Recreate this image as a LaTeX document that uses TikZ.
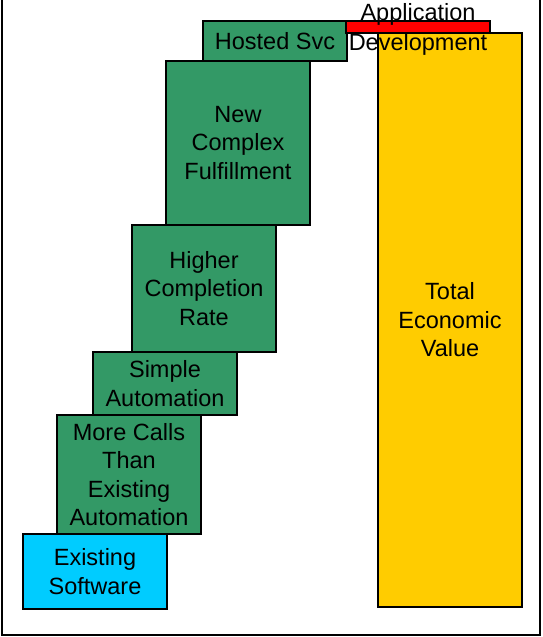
\documentclass[tikz,border=0pt]{standalone}
\usepackage{fontspec}
\setmainfont{Liberation Sans}
\usetikzlibrary{positioning}

\definecolor{stepgreen}{RGB}{51,153,102}
\definecolor{swcyan}{RGB}{0,204,255}
\definecolor{valueyellow}{RGB}{255,204,0}

\tikzset{
	bar/.style={draw=black, line width=1.5pt, rectangle, inner sep=0pt,
		minimum width=144pt, align=center,
		font=\fontsize{23.5}{28.5}\selectfont},
	stepbar/.style={bar, fill=stepgreen}
}

\begin{document}
\begin{tikzpicture}[x=1pt,y=-1pt]
			\useasboundingbox (0,0) rectangle (542,637);
			\draw[line width=1.5pt](2,0) -- (2,635) -- (540,635) -- (540,0);
			% staircase of benefits
			\node[bar, fill=swcyan, minimum height=75pt] (existing) at (95,571.5) {Existing\\Software};
			\node[stepbar, minimum height=119pt] (morecalls) at (129,474.5) {More Calls\\Than\\Existing\\Automation};
			\node[stepbar, minimum height=63pt] (simple) at (165,383.5) {Simple\\Automation};
			\node[stepbar, minimum height=127pt] (higher) at (204,288.5) {Higher\\Completion\\Rate};
			\node[stepbar, minimum height=164pt] (newcomplex) at (238,143) {New\\Complex\\Fulfillment};
			\node[stepbar, minimum height=40pt] (hosted) at (275,41) {Hosted Svc};
			% cost and total
			\node[bar, fill=red, minimum height=12pt] (appdev) at (418,27) {};
			\node[bar, fill=valueyellow, minimum height=574pt] (total) at (450,320) {Total\\Economic\\Value};
			\node[align=center, inner sep=0pt, font=\fontsize{23.5}{30}\selectfont] (appdevlabel) at (418,29.5) {Application\\Development};
		\end{tikzpicture}
\end{document}
